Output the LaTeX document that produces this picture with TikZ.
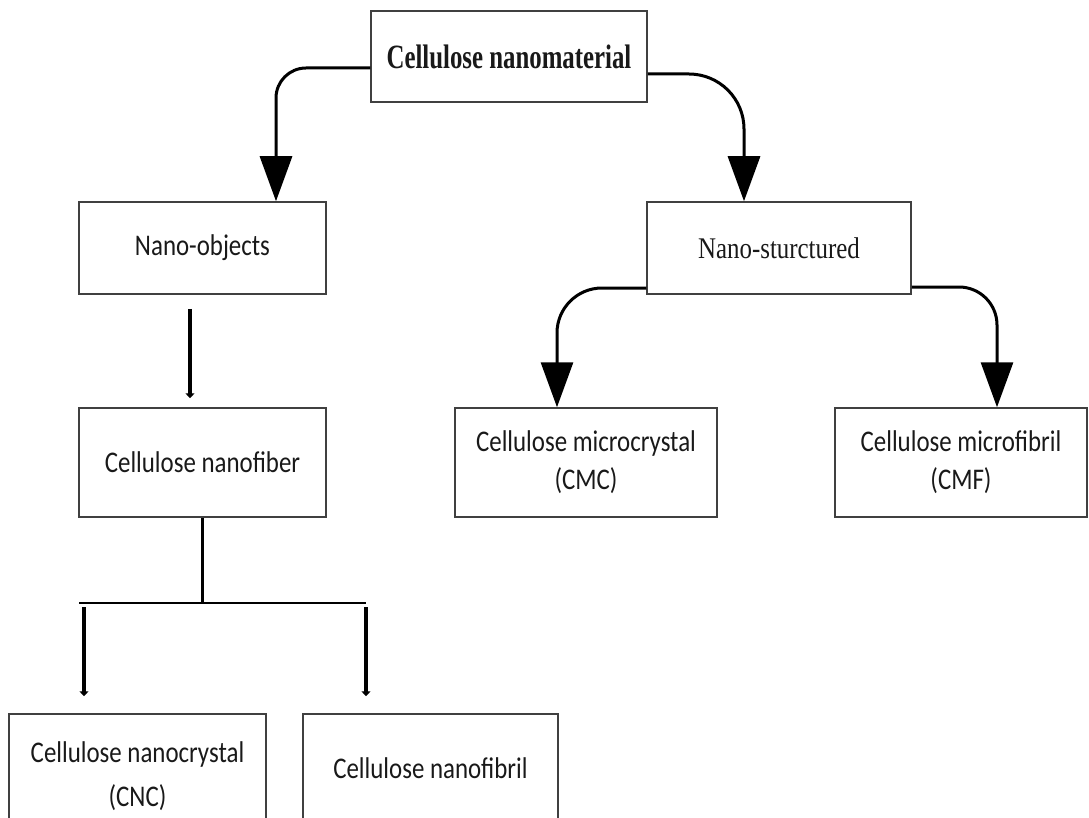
\documentclass[tikz,border=0pt]{standalone}
\usepackage{fontspec}
\usepackage{tikz}
\usetikzlibrary{arrows.meta}

\newfontfamily\titlefont[FakeStretch=0.73]{Liberation Serif}
\newfontfamily\romanfont[FakeStretch=0.83]{Liberation Serif}
\newfontfamily\calfont[FakeStretch=0.83]{Carlito}

\tikzset{
    box/.style={draw=black!75, line width=1.5pt, inner sep=0pt, align=center, text=black!90,
        font=\fontsize{30}{38}\calfont},
    bigarrow/.style={line width=3pt, rounded corners=#1, -{Triangle[length=45pt,width=32pt]}},
    smallarrow/.style={line width=4pt, -{Triangle[length=5pt,width=9pt]}},
    thinline/.style={line width=2.2pt}
}

\begin{document}
\begin{tikzpicture}[x=1pt, y=-1pt]
        \useasboundingbox (0,0) rectangle (1089,818);
        \clip (0,0) rectangle (1089,818);

        % boxes
        \node[box, minimum width=276pt, minimum height=91pt, font=\fontsize{34}{40}\titlefont\bfseries] (top) at (509,56.5)
            {Cellulose nanomaterial};
        \node[box, minimum width=247pt, minimum height=92pt] (objects) at (202.5,248)
            {Nano-objects};
        \node[box, minimum width=264pt, minimum height=92pt, font=\fontsize{30}{38}\romanfont] (structured) at (779,248)
            {Nano-sturctured};
        \node[box, minimum width=247pt, minimum height=109pt] (nanofiber) at (202.5,462.5)
            {Cellulose nanofiber};
        \node[box, minimum width=262pt, minimum height=109pt] (cmc) at (586,462.5)
            {Cellulose microcrystal\\(CMC)};
        \node[box, minimum width=252pt, minimum height=109pt] (cmf) at (961,462.5)
            {Cellulose microfibril\\(CMF)};
        \node[box, minimum width=257pt, minimum height=124pt] (cnc) at (137.5,776)
            {Cellulose nanocrystal\\[6pt](CNC)};
        \node[box, minimum width=255pt, minimum height=108pt] (fibril) at (430.5,768)
            {Cellulose nanofibril};

        % curved arrows
        \draw[bigarrow=30pt] ([yshift=-11.5pt]top.west) -| ([xshift=73.5pt]objects.north);
        \draw[bigarrow=55pt] ([yshift=-17.5pt]top.east) -| ([xshift=-35pt]structured.north);
        \draw[bigarrow=45pt] ([yshift=-40pt]structured.west) -| ([xshift=-29pt]cmc.north);
        \draw[bigarrow=38pt] ([yshift=-39pt]structured.east) -| ([xshift=36pt]cmf.north);

        % straight arrows
        \draw[smallarrow, shorten <=14pt, shorten >=9pt] ([xshift=-12.5pt]objects.south) -- ([xshift=-12.5pt]nanofiber.north);

        \coordinate (forkL) at (84,603);
        \coordinate (forkR) at (366,603);
        \draw[thinline] (nanofiber.south) -- (nanofiber.south |- forkL);
        \draw[thinline] ([xshift=-5pt]forkL) -- (forkR);
        \draw[smallarrow, shorten <=4pt, shorten >=17pt] (forkL) -- (forkL |- cnc.north);
        \draw[smallarrow, shorten <=4pt, shorten >=17pt] (forkR) -- (forkR |- fibril.north);
\end{tikzpicture}
\end{document}
